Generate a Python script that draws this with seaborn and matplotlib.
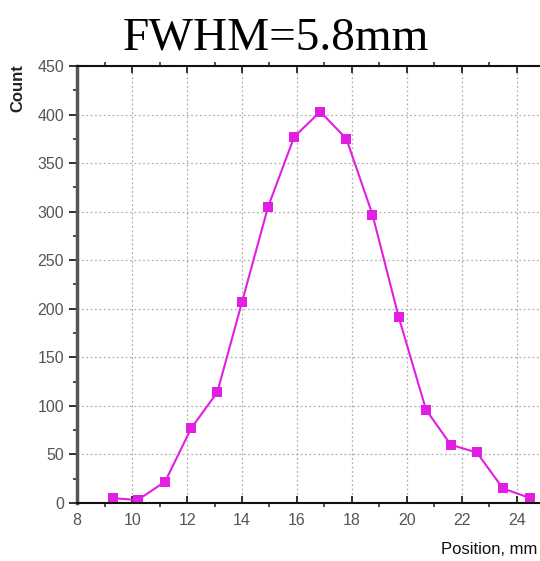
import matplotlib
matplotlib.use("Agg")
import matplotlib.pyplot as plt
import seaborn as sns
import pandas as pd
from matplotlib.ticker import MultipleLocator

position_mm = [9.3, 10.2, 11.2, 12.15, 13.1, 14.0, 14.95, 15.9, 16.85, 17.8, 18.75,
               19.7, 20.7, 21.6, 22.55, 23.5, 24.5]
count = [5, 3, 22, 77, 114, 207, 305, 377, 403, 375, 297, 192, 96, 60, 52, 15, 5]
x_ticks = [8, 10, 12, 14, 16, 18, 20, 22, 24]
y_ticks = [0, 50, 100, 150, 200, 250, 300, 350, 400, 450]

df = pd.DataFrame({"Position": position_mm, "Count": count})

sns.set_theme(style="white")
plt.rcParams['font.family'] = ['Liberation Sans', 'DejaVu Sans']

fig = plt.figure(figsize=(5.4, 5.61), dpi=100)
ax = fig.add_axes([0.143, 0.1034, 0.857, 0.779])

sns.lineplot(data=df, x="Position", y="Count", ax=ax, color="#e21ee2",
             marker="s", markersize=7, markeredgewidth=0, linewidth=1.5)

ax.set_xlim(8, 24.85)
ax.set_ylim(0, 450)
ax.set_xticks(x_ticks)
ax.set_yticks(y_ticks)
ax.xaxis.set_minor_locator(MultipleLocator(1))
ax.yaxis.set_minor_locator(MultipleLocator(25))
ax.grid(True, which="major", color="#b0b0b0", linestyle=(0, (1.5, 2)), linewidth=0.9)
ax.tick_params(axis="both", which="major", direction="out", length=6, width=1.3,
               color="#222222", labelsize=11.5, labelcolor="#555555",
               bottom=True, left=True)
ax.tick_params(axis="both", which="minor", direction="out", length=3, width=1.2,
               color="#333333", bottom=True, left=True)
ax.tick_params(axis="x", which="major", pad=7)
ax.tick_params(axis="x", which="both", top=True)
ax.tick_params(axis="x", which="major", top=True, direction="in", length=5)

for s in ["left"]:
    ax.spines[s].set_color("#555555")
    ax.spines[s].set_linewidth(2.5)
for s in ["bottom", "top"]:
    ax.spines[s].set_color("#111111")
    ax.spines[s].set_linewidth(1.5)
ax.spines["right"].set_visible(False)

ax.set_xlabel("")
ax.set_ylabel("")
fig.text(0.995, 0.008, "Position, mm", ha="right", va="bottom", fontsize=12, color="#111111")
fig.text(0.034, 0.885, "Count", rotation=90, ha="center", va="top", fontsize=12,
         fontweight="bold", color="#222222")
fig.text(0.51, 0.932, "FWHM=5.8mm", ha="center", va="center", fontsize=34,
         family=["Liberation Serif", "DejaVu Serif"], color="#000000")

fig.savefig("out.png", dpi=100, facecolor="white")
